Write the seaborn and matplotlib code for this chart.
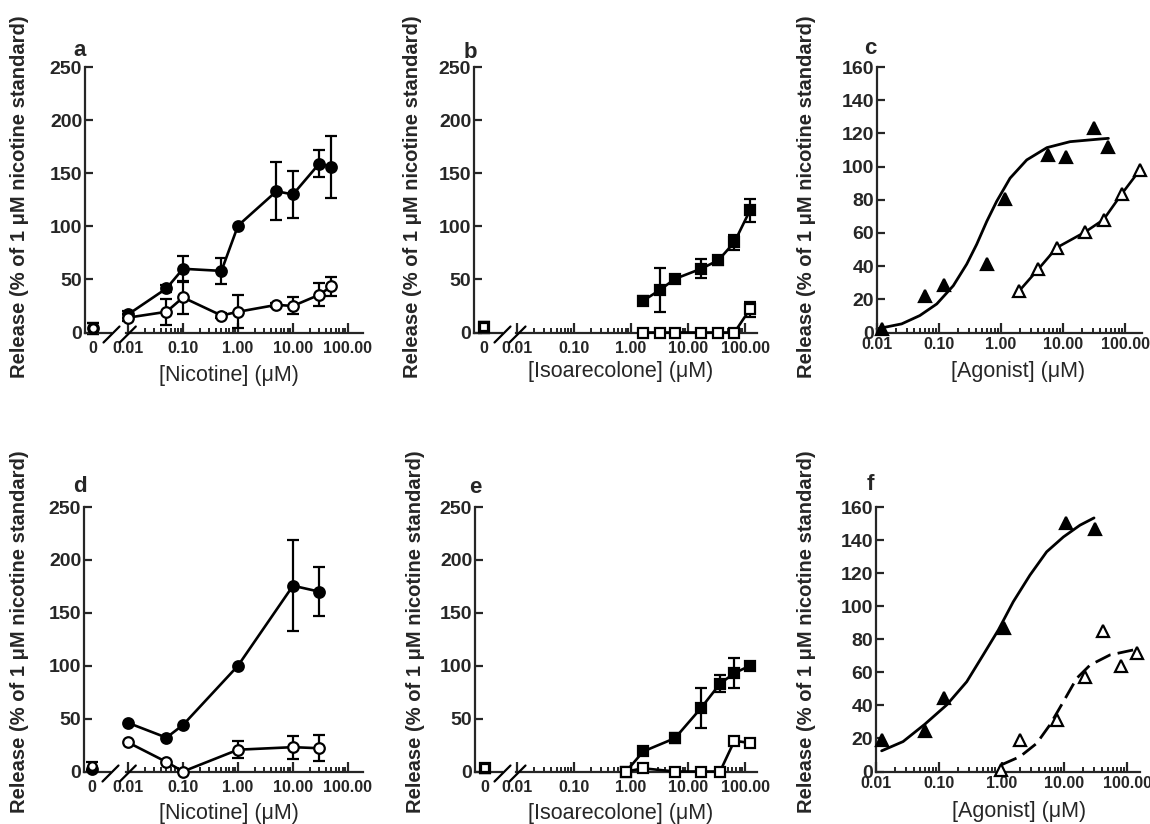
import matplotlib
matplotlib.use("Agg")
import matplotlib.pyplot as plt
import seaborn as sns
from matplotlib.lines import Line2D
from matplotlib.ticker import FixedLocator, LogLocator, NullFormatter

# ---------------- data ----------------
# panel a : nicotine
a_x = [0.01, 0.05, 0.1, 0.5, 1, 5, 10, 30, 50]
a_fill = [17, 41.5, 60, 58, 100.6, 133, 130, 159, 156]
a_fill_err = [3, 3, 12, 12, 0, 27.5, 22, 13, 29]
a_open = [14, 19.5, 33, 16, 19.5, 26, 25, 35.5, 43.5]
a_open_err = [3, 12, 15.5, 2, 15.5, 2, 8, 11, 9]
a_zero_fill, a_zero_fill_err = 4, 5
a_zero_open, a_zero_open_err = 4, 5

# panel b : isoarecolone
b_x = [1.64, 3.2, 5.9, 16.9, 34, 65, 122]
b_fill = [30, 40, 50.5, 60, 68, 85, 115]
b_fill_err = [4, 21, 2, 9, 4, 7, 11]
b_open = [0, 0, 0, 0, 0, 0, 22]
b_open_err = [0, 0, 0, 0, 0, 0, 7]
b_zero_fill, b_zero_fill_err = 5, 5
b_zero_open, b_zero_open_err = 5, 5

# panel c : agonist
c_fill_x = [0.0119, 0.059, 0.12, 0.59, 1.16, 5.7, 11.2, 31.6, 54]
c_fill_y = [2, 22.2, 28.8, 41.5, 80.7, 107, 105.5, 123.4, 111.6]
c_curve_x = [0.01, 0.025, 0.049, 0.092, 0.17, 0.28, 0.405, 0.59, 0.85, 1.4, 2.6, 5.5, 13, 39.5, 54]
c_curve_y = [2.2, 5.2, 10.2, 17.2, 28.2, 41.2, 53.1, 67, 79, 93, 104, 111.4, 115, 116.6, 117]
c_open_x = [1.98, 4.0, 7.9, 22.6, 45, 88.5, 174]
c_open_y = [25.2, 38.2, 51.1, 60.5, 68, 83.5, 98]

# panel d : nicotine
d_x = [0.01, 0.05, 0.1, 1, 10, 30]
d_fill = [46, 32, 44, 100, 175.6, 170]
d_fill_err = [0, 0, 0, 0, 43, 23]
d_open = [27.5, 9, 0, 20.6, 23, 22]
d_open_err = [0, 0, 0, 8, 11, 12.5]
d_zero_fill, d_zero_fill_err = 2, 0
d_zero_open, d_zero_open_err = 5, 4

# panel e : isoarecolone
e_x = [0.82, 1.64, 5.9, 16.9, 36.4, 65, 122]
e_fill = [0, 19, 31.5, 60, 83, 93, 100]
e_fill_err = [0, 0, 5, 19, 8, 14, 0]
e_open = [0, 3, 0, 0, 0, 29, 27]
e_open_err = [0, 3, 0, 0, 0, 0, 0]
e_zero_fill, e_zero_fill_err = 3, 4
e_zero_open, e_zero_open_err = 3, 4

# panel f : agonist
f_fill_x = [0.0123, 0.060, 0.121, 1.1, 10.7, 31]
f_fill_y = [19.1, 24.2, 44.3, 87, 150.5, 146.6]
f_curve_x = [0.0123, 0.027, 0.060, 0.134, 0.279, 0.51, 0.89, 1.54, 2.84, 5.24, 9.7, 17.8, 29.8]
f_curve_y = [12.5, 18.1, 28.6, 40.3, 54.3, 70.5, 85.6, 102.7, 118.8, 132.9, 141.9, 149, 153.4]
f_open_x = [0.98, 1.97, 7.6, 21.5, 41, 80, 143]
f_open_y = [1.0, 19.1, 31.2, 57.4, 85, 64, 71.4]
f_dash_x = [0.99, 1.97, 3.63, 5.9, 9.7, 15.8, 25.8, 53.4, 125]
f_dash_y = [4, 9, 17, 28.2, 42.3, 56.4, 64.4, 70.5, 73.5]

log_ticks = [0.01, 0.1, 1, 10, 100]
log_labels = ["0.01", "0.10", "1.00", "10.00", "100.00"]
ticks_250 = [0, 50, 100, 150, 200, 250]
ticks_160 = [0, 20, 40, 60, 80, 100, 120, 140, 160]

YLABEL = "Release (% of 1 μM nicotine standard)"

# ---------------- style ----------------
sns.set_style("ticks")
plt.rcParams["font.family"] = ["Liberation Sans", "DejaVu Sans"]
plt.rcParams["axes.linewidth"] = 1.6

W, H = 1150, 824
fig = plt.figure(figsize=(11.5, 8.24), dpi=100)

LW = 1.9
MS = 7.6
ELW = 1.6
CAP = 4.5
XT = 11.5


def add_px(l, t, r, b):
    return fig.add_axes([l / W, 1 - b / H, (r - l) / W, (b - t) / H])


def style_log_x(ax, xlim, pad):
    ax.set_xscale("log")
    ax.set_xlim(*xlim)
    ax.xaxis.set_major_locator(FixedLocator(log_ticks))
    ax.set_xticklabels(log_labels)
    ax.xaxis.set_minor_locator(LogLocator(base=10, subs=range(2, 10), numticks=20))
    ax.xaxis.set_minor_formatter(NullFormatter())
    ax.tick_params(axis="x", which="major", direction="in", length=7, width=1.6,
                   labelsize=XT, pad=pad)
    ax.tick_params(axis="x", which="minor", direction="in", length=3.6, width=1.4)
    for lab in ax.get_xticklabels():
        lab.set_fontweight("bold")


def style_y(ax, ticks):
    ax.set_ylim(0, ticks[-1])
    ax.set_yticks(ticks)
    ax.tick_params(axis="y", direction="in", length=6, width=1.6, labelsize=14, pad=2)
    for lab in ax.get_yticklabels():
        lab.set_fontweight("bold")


def errbars(ax, x, y, err, z=2):
    xs = [xi for xi, e in zip(x, err) if e > 0]
    ys = [yi for yi, e in zip(y, err) if e > 0]
    es = [e for e in err if e > 0]
    if xs:
        ax.errorbar(xs, ys, yerr=es, fmt="none", ecolor="black", elinewidth=ELW,
                    capsize=CAP, capthick=ELW, zorder=z, clip_on=False)


def series(ax, x, y, marker, filled, connect=True, ms=MS, z=3):
    kw = dict(color="black", marker=marker, markersize=ms, markeredgecolor="black",
              markeredgewidth=1.6, markerfacecolor="black" if filled else "white",
              clip_on=False, zorder=z)
    if connect:
        sns.lineplot(x=x, y=y, ax=ax, linewidth=LW, estimator=None, **kw)
    else:
        sns.lineplot(x=x, y=y, ax=ax, linestyle="none", estimator=None, **kw)


def slash(cx, cy):
    fig.add_artist(Line2D([(cx - 8) / W, (cx + 8) / W],
                          [1 - (cy + 9) / H, 1 - (cy - 7) / H],
                          color="black", linewidth=1.6))


def broken_panel(spine_x, zero_r, log_l, log_r, top, bot, zero_xlim, xlim,
                 x, fill, fill_err, opn, opn_err, zf, zfe, zo, zoe, marker):
    axz = add_px(spine_x, top, zero_r, bot)
    axl = add_px(log_l, top, log_r, bot)
    for ax in (axz, axl):
        ax.spines["top"].set_visible(False)
        ax.spines["right"].set_visible(False)
        ax.set_facecolor("none")
    axl.spines["left"].set_visible(False)
    # zero segment
    axz.set_xlim(*zero_xlim)
    style_y(axz, ticks_250)
    axz.set_xticks([0])
    axz.set_xticklabels(["0"])
    axz.tick_params(axis="x", length=0, labelsize=XT, pad=6)
    for lab in axz.get_xticklabels():
        lab.set_fontweight("bold")
    errbars(axz, [0], [zf], [zfe])
    errbars(axz, [0], [zo], [zoe])
    series(axz, [0], [zf], marker, True, connect=False)
    series(axz, [0], [zo], marker, False, connect=False, ms=MS - 1.5, z=4)
    # log segment
    style_log_x(axl, xlim, pad=6)
    axl.set_ylim(0, 250)
    axl.set_yticks([])
    errbars(axl, x, fill, fill_err)
    errbars(axl, x, opn, opn_err)
    series(axl, x, fill, marker, True)
    series(axl, x, opn, marker, False, z=4)
    for ax in (axz, axl):
        ax.set_xlabel("")
        ax.set_ylabel("")
    # break marks
    slash(zero_r + 0.5, bot + 1)
    slash(log_l + 1.5, bot + 1)
    return axz, axl


def agonist_panel(spine_x, right, top, bot, xlim):
    ax = add_px(spine_x, top, right, bot)
    ax.spines["top"].set_visible(False)
    ax.spines["right"].set_visible(False)
    ax.set_facecolor("none")
    style_log_x(ax, xlim, pad=3)
    style_y(ax, ticks_160)
    return ax


TOP1, BOT1 = 67, 332.5
TOP2, BOT2 = 507, 771.5

# panel a
broken_panel(85, 111, 126.3, 363.3, TOP1, BOT1, (-1, 2.25), (0.0093, 190),
             a_x, a_fill, a_fill_err, a_open, a_open_err,
             a_zero_fill, a_zero_fill_err, a_zero_open, a_zero_open_err, "o")
# panel b
broken_panel(474, 502, 516, 757, TOP1, BOT1, (-1, 1.8), (0.0096, 162),
             b_x, b_fill, b_fill_err, b_open, b_open_err,
             b_zero_fill, b_zero_fill_err, b_zero_open, b_zero_open_err, "s")
# panel d
broken_panel(84, 110, 126.3, 363.3, TOP2, BOT2, (-1, 2.25), (0.0093, 190),
             d_x, d_fill, d_fill_err, d_open, d_open_err,
             d_zero_fill, d_zero_fill_err, d_zero_open, d_zero_open_err, "o")
# panel e
broken_panel(475, 502, 516, 757, TOP2, BOT2, (-1, 1.8), (0.0096, 162),
             e_x, e_fill, e_fill_err, e_open, e_open_err,
             e_zero_fill, e_zero_fill_err, e_zero_open, e_zero_open_err, "s")

# panel c
axc = agonist_panel(877, 1142, TOP1, BOT1, (0.01, 188))
sns.lineplot(x=c_curve_x, y=c_curve_y, ax=axc, color="black", linewidth=2.0,
             estimator=None, clip_on=False)
series(axc, c_open_x, c_open_y, "^", False, ms=8)
series(axc, c_fill_x, c_fill_y, "^", True, connect=False, ms=8.5)
axc.set_xlabel("")
axc.set_ylabel("")

# panel f
axf = agonist_panel(876, 1140, TOP2, BOT2, (0.01, 161))
sns.lineplot(x=f_curve_x, y=f_curve_y, ax=axf, color="black", linewidth=2.0,
             estimator=None, clip_on=False)
sns.lineplot(x=f_dash_x, y=f_dash_y, ax=axf, color="black", linewidth=2.0,
             estimator=None, clip_on=False)
axf.lines[-1].set_dashes((6, 2.6))
series(axf, f_open_x, f_open_y, "^", False, connect=False, ms=8)
series(axf, f_fill_x, f_fill_y, "^", True, connect=False, ms=8.5)
axf.set_xlabel("")
axf.set_ylabel("")

# ---------------- texts ----------------
def ftext(x, y, s, **kw):
    fig.text(x / W, 1 - y / H, s, **kw)


for (x, y) in [(20, 197), (413, 197), (807, 197), (20, 632), (415, 632), (807, 632)]:
    ftext(x, y, YLABEL, rotation=90, ha="center", va="center",
          fontsize=14.5, fontweight="bold")

xlabels = [((229, 375), "[Nicotine] (μM)"), ((621, 371), "[Isoarecolone] (μM)"),
           ((1018, 372), "[Agonist] (μM)"), ((229, 813), "[Nicotine] (μM)"),
           ((621, 813), "[Isoarecolone] (μM)"), ((1019, 812), "[Agonist] (μM)")]
for (x, y), s in xlabels:
    ftext(x, y, s, ha="center", va="center", fontsize=15.5)

for (x, y), s in [((80, 50), "a"), ((470, 52), "b"), ((870, 48), "c"),
                  ((80, 487), "d"), ((475, 488), "e"), ((870, 485), "f")]:
    ftext(x, y, s, ha="center", va="center", fontsize=16, fontweight="bold")

fig.savefig("out.png", dpi=100)
